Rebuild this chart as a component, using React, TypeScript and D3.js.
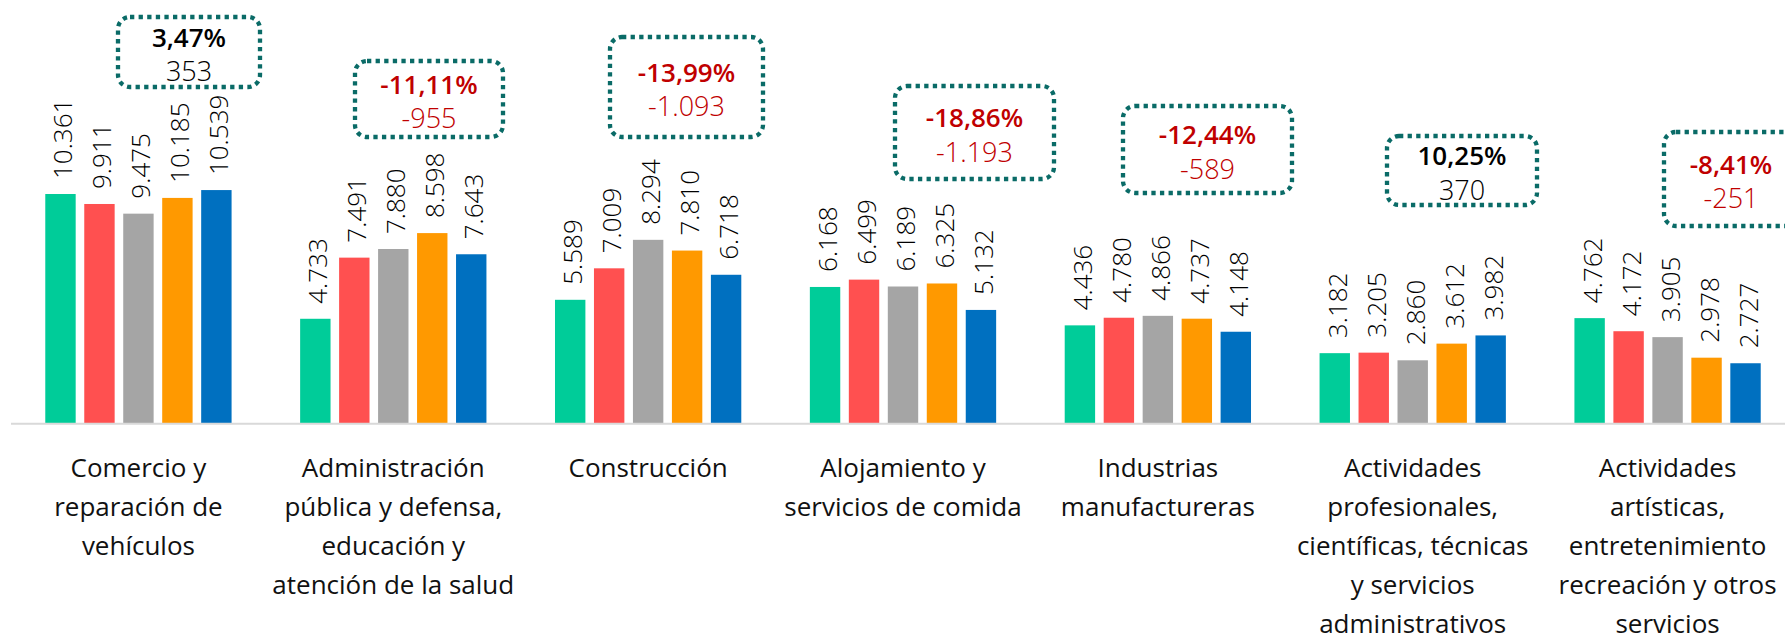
import React, { useEffect } from "react";
import * as d3 from "d3";

// ---------- DATA ----------
const categories = [
  "Comercio y reparación de vehículos",
  "Administración pública y defensa, educación y atención de la salud",
  "Construcción",
  "Alojamiento y servicios de comida",
  "Industrias manufactureras",
  "Actividades profesionales, científicas, técnicas y servicios administrativos",
  "Actividades artísticas, entretenimiento recreación y otros servicios",
];

const categoryLines = [
  ["Comercio y", "reparación de", "vehículos"],
  ["Administración", "pública y defensa,", "educación y", "atención de la salud"],
  ["Construcción"],
  ["Alojamiento y", "servicios de comida"],
  ["Industrias", "manufactureras"],
  ["Actividades", "profesionales,", "científicas, técnicas", "y servicios", "administrativos"],
  ["Actividades", "artísticas,", "entretenimiento", "recreación y otros", "servicios"],
];

const seriesNames = ["Serie 1", "Serie 2", "Serie 3", "Serie 4", "Serie 5"];

const serie1 = [10361, 4733, 5589, 6168, 4436, 3182, 4762];
const serie2 = [9911, 7491, 7009, 6499, 4780, 3205, 4172];
const serie3 = [9475, 7880, 8294, 6189, 4866, 2860, 3905];
const serie4 = [10185, 8598, 7810, 6325, 4737, 3612, 2978];
const serie5 = [10539, 7643, 6718, 5132, 4148, 3982, 2727];

const changePct = [3.47, -11.11, -13.99, -18.86, -12.44, 10.25, -8.41];
const changeAbs = [353, -955, -1093, -1193, -589, 370, -251];

// ---------- LAYOUT (not data) ----------
const seriesColors = ["#00CC99", "#FF5050", "#A5A5A5", "#FF9900", "#0070C0"];
// annotation boxes: [x0, y0, x1, y1]
const boxRects = [
  [118, 17, 260, 87],
  [355, 61, 503, 137],
  [610, 37, 763, 137],
  [895, 86, 1054, 179],
  [1123, 106, 1292, 193],
  [1387, 136, 1537, 205],
  [1664, 132, 1798, 226],
];

const W = 1785;
const H = 635;
const baseline = 423.7;

const locale = d3.formatLocale({
  decimal: ",",
  thousands: ".",
  grouping: [3],
  currency: ["", ""],
  minus: "-",
});
const fmtInt = locale.format(",d");
const fmtPct = locale.format(".2f");

export default function App() {
  useEffect(() => {
    document.body.style.margin = "0";
  }, []);

  const series = [serie1, serie2, serie3, serie4, serie5];

  const x0 = d3.scaleBand<string>().domain(categories).range([11, 1795]).padding(0);
  const bw = x0.bandwidth();
  const groupW = bw * 0.731;
  const x1 = d3
    .scaleBand<string>()
    .domain(seriesNames)
    .range([0, groupW])
    .paddingInner(0.22)
    .paddingOuter(0);
  const y = d3.scaleLinear().domain([0, 19000]).range([baseline, 2.5]);

  const font = "'Open Sans', 'Noto Sans', sans-serif";

  return (
    <svg
      width={W}
      height={H}
      viewBox={`0 0 ${W} ${H}`}
      style={{ display: "block", background: "#fff", overflow: "hidden" }}
    >
      {categories.map((cat, ci) => {
        const gx = (x0(cat) as number) + (bw - groupW) / 2;
        return (
          <g key={cat}>
            {series.map((s, si) => {
              const bx = gx + (x1(seriesNames[si]) as number);
              const v = s[ci];
              const top = y(v);
              const cx = bx + x1.bandwidth() / 2;
              return (
                <g key={si}>
                  <rect
                    x={bx}
                    y={top}
                    width={x1.bandwidth()}
                    height={baseline - top}
                    fill={seriesColors[si]}
                  />
                  <text
                    transform={`translate(${cx + 2},${top - 15}) rotate(-90)`}
                    textAnchor="start"
                    dominantBaseline="central"
                    fontFamily={font}
                    fontWeight={300}
                    fontSize={26}
                    fill="#000"
                  >
                    {fmtInt(v)}
                  </text>
                </g>
              );
            })}
          </g>
        );
      })}

      <line x1={11} x2={W} y1={baseline} y2={baseline} stroke="#D9D9D9" strokeWidth={2} />

      {categories.map((cat, ci) => {
        const cx = (x0(cat) as number) + bw / 2;
        return (
          <text
            key={"lab" + ci}
            x={cx}
            y={477}
            textAnchor="middle"
            fontFamily={font}
            fontSize={26}
            fill="#111"
          >
            {categoryLines[ci].map((ln, li) => (
              <tspan key={li} x={cx} y={477 + li * 39}>
                {ln}
              </tspan>
            ))}
          </text>
        );
      })}

      {boxRects.map((r, bi) => {
        const [bx0, by0, bx1, by1] = r;
        const cx = (bx0 + bx1) / 2;
        const cy = (by0 + by1) / 2;
        const neg = changePct[bi] < 0;
        return (
          <g key={"box" + bi}>
            <rect
              x={bx0}
              y={by0}
              width={bx1 - bx0}
              height={by1 - by0}
              rx={12}
              ry={12}
              fill="#fff"
              stroke="#0A6B67"
              strokeWidth={4.3}
              strokeDasharray="4.3 4.3"
            />
            <text
              x={cx}
              y={cy - 15.5}
              textAnchor="middle"
              dominantBaseline="central"
              fontFamily={font}
              fontWeight={600}
              fontSize={26}
              fill={neg ? "#C00000" : "#000"}
            >
              {fmtPct(changePct[bi]) + "%"}
            </text>
            <text
              x={cx}
              y={cy + 18.5}
              textAnchor="middle"
              dominantBaseline="central"
              fontFamily={font}
              fontWeight={300}
              fontSize={27}
              fill={neg ? "#C00000" : "#000"}
            >
              {fmtInt(changeAbs[bi])}
            </text>
          </g>
        );
      })}
    </svg>
  );
}
